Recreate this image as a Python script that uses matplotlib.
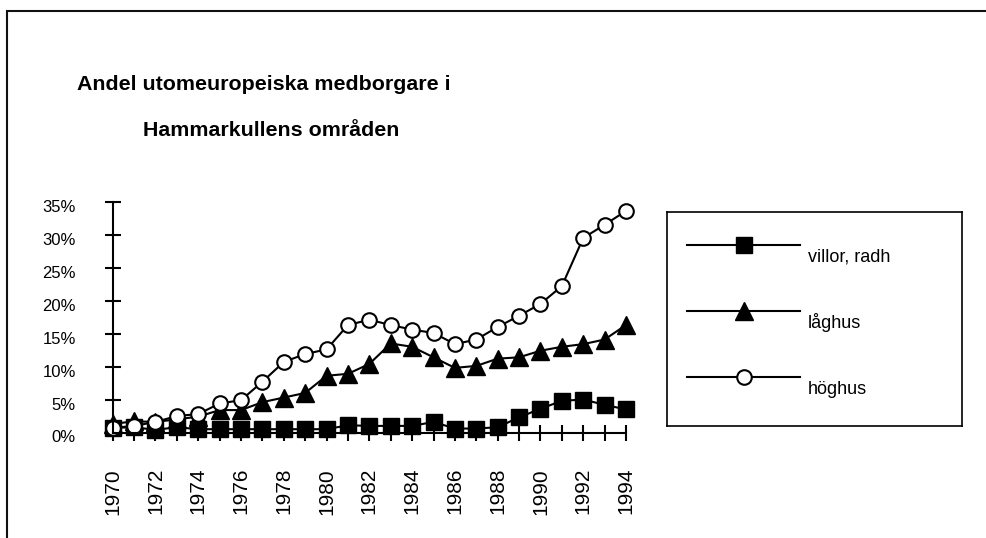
import matplotlib
matplotlib.use("Agg")
import matplotlib.pyplot as plt
import matplotlib.patches as mpatches
from matplotlib.transforms import ScaledTranslation

plt.rcParams['font.family'] = ['Liberation Sans', 'DejaVu Sans']

years = list(range(1970, 1995))
villor = [0.7, 0.8, 0.4, 0.8, 0.5, 0.5, 0.5, 0.5, 0.5, 0.5, 0.5, 1.1, 1.0, 1.0, 1.0, 1.6,
          0.6, 0.6, 0.8, 2.3, 3.6, 4.8, 5.0, 4.2, 3.5]
laghus = [1.3, 1.7, 1.6, 2.0, 2.4, 3.4, 3.4, 4.6, 5.3, 6.0, 8.6, 8.9, 10.4, 13.5, 13.0, 11.4,
          9.8, 10.1, 11.2, 11.4, 12.4, 13.0, 13.4, 14.1, 16.3]
hoghus = [0.7, 1.0, 1.6, 2.5, 2.8, 4.4, 4.9, 7.7, 10.7, 11.9, 12.6, 16.3, 17.1, 16.3, 15.6, 15.1,
          13.4, 14.1, 16.0, 17.7, 19.5, 22.2, 29.5, 31.5, 33.6]
series_names = ['villor, radh', 'låghus', 'höghus']
yticks = [0, 5, 10, 15, 20, 25, 30, 35]
ytick_labels = ['0%', '5%', '10%', '15%', '20%', '25%', '30%', '35%']
title_line1 = 'Andel utomeuropeiska medborgare i'
title_line2 = 'Hammarkullens områden'

W, H = 986, 538
fig = plt.figure(figsize=(W / 100, H / 100), dpi=100)

# outer frame
fig.patches.append(mpatches.Rectangle((7 / W, -0.2), 1.2, (H - 11) / H + 0.2,
                                      transform=fig.transFigure, fill=False,
                                      edgecolor='#111111', linewidth=1.5))

ax = fig.add_axes([112.7 / W, (H - 432.5) / H, (626 - 112.7) / W, (432.5 - 201.7) / H])
styles = [dict(marker='s', ms=11.5, mfc='black', mec='black'),
          dict(marker='^', ms=12.5, mfc='black', mec='black'),
          dict(marker='o', ms=10.5, mfc='white', mec='black', mew=1.5)]
for vals, st in zip([villor, laghus, hoghus], styles):
    ax.plot(years, vals, color='black', lw=1.5, clip_on=False, **st)

ax.set_xlim(1970, 1994)
ax.set_ylim(0, 35)
for s in ['top', 'right']:
    ax.spines[s].set_visible(False)
for s in ['left', 'bottom']:
    ax.spines[s].set_linewidth(1.5)
ax.set_yticks(yticks)
ax.set_yticklabels(ytick_labels)
ax.set_xticks(years)
ax.set_xticklabels([str(y) if y % 2 == 0 else '' for y in years], rotation=90)
ax.tick_params(axis='both', direction='inout', length=11, width=1.5)
ax.tick_params(axis='y', pad=21, labelsize=12)
ax.tick_params(axis='x', pad=20, labelsize=15)
for lab in ax.get_yticklabels():
    lab.set_transform(lab.get_transform() + ScaledTranslation(0, -4 / 100, fig.dpi_scale_trans))

fig.text(77 / W, 1 - 85 / H, title_line1, fontsize=15.4, fontweight='bold', ha='left', va='center')
fig.text(143 / W, 1 - 131 / H, title_line2, fontsize=15.4, fontweight='bold', ha='left', va='center')

# legend box
lg = fig.add_axes([667 / W, (H - 426) / H, 295 / W, 214 / H])
lg.set_xlim(0, 295)
lg.set_ylim(214, 0)
lg.set_xticks([])
lg.set_yticks([])
for s in lg.spines.values():
    s.set_linewidth(1.2)
row_y = [33, 99, 165]
for name, st, yy in zip(series_names, styles, row_y):
    lg.plot([20, 133], [yy, yy], color='black', lw=1.5)
    lg.plot([77], [yy], linestyle='none', **st)
    lg.text(141, yy + 12, name, fontsize=13, ha='left', va='center')

fig.savefig('out.png', dpi=100)
